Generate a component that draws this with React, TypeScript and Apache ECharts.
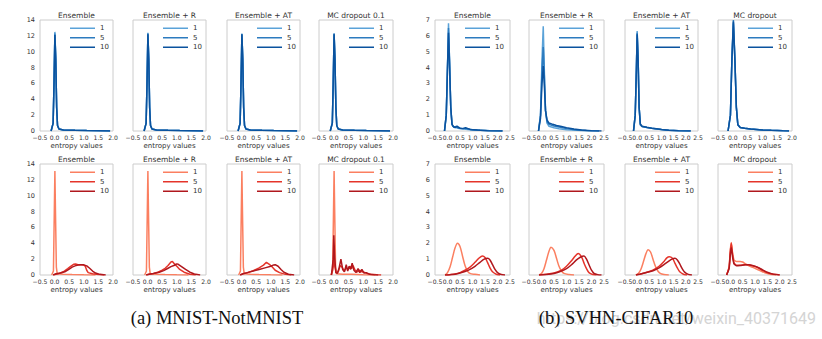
import React, { useEffect, useRef } from "react";
import * as echarts from "echarts";

// ---------- labels ----------
const panelTitles = ["Ensemble", "Ensemble + R", "Ensemble + AT", "MC dropout 0.1", "Ensemble", "Ensemble + R", "Ensemble + AT", "MC dropout"];
const legendLabels = ["1", "5", "10"];
const xAxisName = "entropy values";
const captionA = "(a) MNIST-NotMNIST";
const captionB = "(b) SVHN-CIFAR10";
const watermark = "https://blog.csdn.net/weixin_40371649";

// ---------- axis ranges ----------
const xMinAll = -0.5;
const xMaxMnist = 2.0;
const xMaxSvhn = 2.5;
const xMaxSvhnMcTop = 2.0;
const yMaxMnist = 14;
const yStepMnist = 2;
const yMaxSvhn = 7;
const yStepSvhn = 1;

// ---------- colours ----------
const blues = ["#5aa2d8", "#2c7bbf", "#0a529e"];
const reds = ["#fb7f60", "#e5342a", "#b0171d"];

// ---------- MNIST in-distribution (top row, blue) ----------
const mnEnsB1 = [[-0.12, 0], [-0.05, 1], [-0.02, 6], [0.01, 12.5], [0.04, 9], [0.07, 3], [0.1, 0.7], [0.15, 0.25], [0.3, 0.12], [0.7, 0.08], [1.1, 0.05], [1.5, 0.03], [1.9, 0]];
const mnEnsB5 = [[-0.12, 0], [-0.05, 1], [-0.02, 6], [0.01, 12.3], [0.04, 9], [0.07, 3], [0.1, 0.7], [0.15, 0.25], [0.3, 0.12], [0.7, 0.08], [1.1, 0.05], [1.5, 0.03], [1.9, 0]];
const mnEnsB10 = [[-0.12, 0], [-0.05, 1], [-0.02, 6], [0.01, 12.1], [0.04, 9], [0.07, 3], [0.1, 0.7], [0.15, 0.25], [0.3, 0.12], [0.7, 0.08], [1.1, 0.05], [1.5, 0.03], [1.9, 0]];
const mnRB1 = [[-0.12, 0], [-0.05, 1], [-0.02, 6], [0.01, 12.4], [0.04, 9], [0.07, 3], [0.1, 0.7], [0.15, 0.25], [0.3, 0.12], [0.7, 0.08], [1.1, 0.05], [1.5, 0.03], [1.9, 0]];
const mnRB5 = [[-0.12, 0], [-0.05, 1], [-0.02, 6], [0.01, 12.3], [0.04, 9], [0.07, 3], [0.1, 0.7], [0.15, 0.25], [0.3, 0.12], [0.7, 0.08], [1.1, 0.05], [1.5, 0.03], [1.9, 0]];
const mnRB10 = [[-0.12, 0], [-0.05, 1], [-0.02, 6], [0.01, 12.2], [0.04, 9], [0.07, 3], [0.1, 0.7], [0.15, 0.25], [0.3, 0.12], [0.7, 0.08], [1.1, 0.05], [1.5, 0.03], [1.9, 0]];
const mnAtB1 = [[-0.12, 0], [-0.05, 1], [-0.02, 6], [0.01, 12.3], [0.04, 9], [0.07, 3], [0.1, 0.7], [0.15, 0.25], [0.3, 0.12], [0.7, 0.08], [1.1, 0.05], [1.5, 0.03], [1.9, 0]];
const mnAtB5 = [[-0.12, 0], [-0.05, 1], [-0.02, 6], [0.01, 12.2], [0.04, 9], [0.07, 3], [0.1, 0.7], [0.15, 0.25], [0.3, 0.12], [0.7, 0.08], [1.1, 0.05], [1.5, 0.03], [1.9, 0]];
const mnAtB10 = [[-0.12, 0], [-0.05, 1], [-0.02, 6], [0.01, 12.2], [0.04, 9], [0.07, 3], [0.1, 0.7], [0.15, 0.25], [0.3, 0.12], [0.7, 0.08], [1.1, 0.05], [1.5, 0.03], [1.9, 0]];
const mnMcB1 = [[-0.12, 0], [-0.05, 1], [-0.02, 6], [0.01, 12.3], [0.04, 9], [0.07, 3], [0.1, 0.7], [0.15, 0.25], [0.3, 0.12], [0.7, 0.08], [1.1, 0.05], [1.5, 0.03], [1.9, 0]];
const mnMcB5 = [[-0.12, 0], [-0.05, 1], [-0.02, 6], [0.01, 12.3], [0.04, 9], [0.07, 3], [0.1, 0.7], [0.15, 0.25], [0.3, 0.12], [0.7, 0.08], [1.1, 0.05], [1.5, 0.03], [1.9, 0]];
const mnMcB10 = [[-0.12, 0], [-0.05, 1], [-0.02, 6], [0.01, 12.2], [0.04, 9], [0.07, 3], [0.1, 0.7], [0.15, 0.25], [0.3, 0.12], [0.7, 0.08], [1.1, 0.05], [1.5, 0.03], [1.9, 0]];

// ---------- MNIST out-of-distribution (bottom row, red) ----------
const mnEnsR1 = [[-0.1, 0], [-0.04, 0.5], [-0.01, 8], [0.01, 13.1], [0.03, 8], [0.06, 1], [0.09, 0.15], [0.3, 0.08], [0.6, 0.05], [1.0, 0.02], [1.4, 0]];
const mnEnsR5 = [[-0.05, 0], [0.05, 0.1], [0.15, 0.2], [0.3, 0.4], [0.45, 0.8], [0.55, 1.1], [0.65, 1.35], [0.72, 1.38], [0.8, 1.3], [0.9, 1.28], [1.0, 1.25], [1.05, 1.1], [1.1, 0.6], [1.15, 0.3], [1.3, 0.15], [1.5, 0.05], [1.7, 0]];
const mnEnsR10 = [[-0.05, 0], [0.05, 0.15], [0.2, 0.25], [0.35, 0.4], [0.5, 0.75], [0.6, 1.0], [0.7, 1.15], [0.8, 1.25], [0.9, 1.3], [1.0, 1.28], [1.1, 1.15], [1.2, 0.85], [1.3, 0.5], [1.4, 0.25], [1.55, 0.08], [1.75, 0]];
const mnRR1 = [[-0.1, 0], [-0.04, 0.5], [-0.01, 8], [0.01, 13.1], [0.03, 8], [0.06, 1], [0.09, 0.15], [0.3, 0.08], [0.6, 0.05], [1.0, 0.02], [1.4, 0]];
const mnRR5 = [[-0.05, 0], [0.05, 0.1], [0.2, 0.2], [0.35, 0.35], [0.5, 0.6], [0.6, 0.85], [0.7, 1.2], [0.8, 1.65], [0.85, 1.7], [0.92, 1.4], [1.0, 1.1], [1.1, 0.7], [1.25, 0.35], [1.45, 0.1], [1.65, 0]];
const mnRR10 = [[-0.05, 0], [0.05, 0.1], [0.2, 0.2], [0.4, 0.35], [0.55, 0.55], [0.7, 0.85], [0.8, 1.05], [0.9, 1.2], [1.0, 1.4], [1.05, 1.35], [1.15, 1.1], [1.3, 0.7], [1.45, 0.35], [1.6, 0.12], [1.8, 0]];
const mnAtR1 = [[-0.1, 0], [-0.04, 0.5], [-0.01, 8], [0.01, 13.1], [0.03, 8], [0.06, 1], [0.09, 0.15], [0.3, 0.08], [0.6, 0.05], [1.0, 0.02], [1.4, 0]];
const mnAtR5 = [[-0.05, 0], [0.05, 0.15], [0.2, 0.3], [0.4, 0.55], [0.6, 0.9], [0.75, 1.25], [0.85, 1.6], [0.95, 1.35], [1.05, 1.0], [1.15, 0.6], [1.3, 0.3], [1.5, 0.08], [1.7, 0]];
const mnAtR10 = [[-0.05, 0], [0.05, 0.15], [0.2, 0.3], [0.4, 0.5], [0.6, 0.7], [0.8, 0.9], [1.0, 1.1], [1.1, 1.27], [1.15, 1.3], [1.25, 1.1], [1.35, 0.7], [1.45, 0.35], [1.6, 0.1], [1.8, 0]];
const mnMcR1 = [[-0.1, 0], [-0.04, 0.5], [-0.01, 8], [0.01, 13.1], [0.03, 8], [0.06, 1], [0.09, 0.15], [0.3, 0.1], [0.6, 0.08], [1.0, 0.03], [1.4, 0]];
const mnMcR5 = [[-0.08, 0], [-0.02, 1], [0.0, 2.8], [0.03, 1.2], [0.08, 0.3], [0.15, 0.4], [0.22, 1.2], [0.28, 1.0], [0.35, 0.5], [0.42, 0.9], [0.48, 0.7], [0.55, 1.1], [0.6, 0.8], [0.65, 1.2], [0.72, 0.6], [0.8, 0.4], [0.88, 0.6], [0.95, 0.4], [1.02, 0.35], [1.12, 0.2], [1.25, 0.1], [1.45, 0.02], [1.6, 0]];
const mnMcR10 = [[-0.08, 0], [-0.02, 2], [0.0, 5.0], [0.03, 2.2], [0.07, 0.3], [0.12, 0.2], [0.18, 0.9], [0.24, 2.0], [0.3, 0.7], [0.36, 0.4], [0.42, 1.3], [0.47, 0.5], [0.52, 1.1], [0.57, 0.7], [0.62, 1.5], [0.68, 0.6], [0.75, 0.3], [0.82, 0.8], [0.88, 0.3], [0.95, 0.7], [1.02, 0.25], [1.1, 0.3], [1.2, 0.1], [1.35, 0.03], [1.5, 0]];

// ---------- SVHN in-distribution (top row, blue) ----------
const svEnsB1 = [[-0.12, 0], [-0.05, 1], [0.0, 4], [0.04, 6.8], [0.08, 4.5], [0.13, 1.5], [0.18, 0.4], [0.25, 0.25], [0.4, 0.18], [0.6, 0.14], [0.8, 0.1], [1.0, 0.07], [1.3, 0.04], [1.7, 0.02], [2.2, 0]];
const svEnsB5 = [[-0.12, 0], [-0.05, 1], [0.0, 4], [0.04, 6.5], [0.08, 4.5], [0.13, 1.5], [0.18, 0.4], [0.25, 0.25], [0.35, 0.28], [0.45, 0.18], [0.6, 0.15], [0.75, 0.16], [1.0, 0.08], [1.3, 0.05], [1.7, 0.02], [2.2, 0]];
const svEnsB10 = [[-0.12, 0], [-0.05, 1], [0.0, 4], [0.04, 6.2], [0.08, 4.3], [0.13, 1.5], [0.18, 0.45], [0.22, 0.3], [0.3, 0.22], [0.38, 0.3], [0.5, 0.18], [0.62, 0.15], [0.72, 0.2], [0.9, 0.1], [1.2, 0.06], [1.6, 0.02], [2.2, 0]];
const svRB1 = [[-0.12, 0], [-0.04, 1], [0.02, 4.5], [0.07, 6.6], [0.11, 4], [0.16, 1.3], [0.22, 0.5], [0.3, 0.3], [0.5, 0.2], [0.7, 0.14], [1.0, 0.08], [1.4, 0.04], [1.8, 0.02], [2.3, 0]];
const svRB5 = [[-0.12, 0], [-0.04, 1], [0.02, 3.8], [0.07, 5.3], [0.11, 3.6], [0.16, 1.3], [0.22, 0.6], [0.3, 0.42], [0.5, 0.32], [0.7, 0.25], [1.0, 0.15], [1.4, 0.07], [1.8, 0.03], [2.3, 0]];
const svRB10 = [[-0.12, 0], [-0.04, 0.8], [0.02, 3], [0.07, 4.1], [0.11, 3], [0.16, 1.3], [0.22, 0.7], [0.3, 0.5], [0.45, 0.42], [0.6, 0.35], [0.8, 0.28], [1.0, 0.2], [1.3, 0.12], [1.6, 0.06], [2.0, 0.02], [2.4, 0]];
const svAtB1 = [[-0.15, 0], [-0.08, 1], [-0.03, 4], [0.0, 6.3], [0.04, 4.5], [0.08, 1.5], [0.13, 0.4], [0.2, 0.28], [0.4, 0.22], [0.6, 0.17], [0.8, 0.13], [1.0, 0.09], [1.3, 0.05], [1.7, 0.02], [2.2, 0]];
const svAtB5 = [[-0.15, 0], [-0.08, 1], [-0.03, 4], [0.0, 6.2], [0.04, 4.5], [0.08, 1.5], [0.13, 0.4], [0.2, 0.28], [0.4, 0.22], [0.6, 0.17], [0.8, 0.13], [1.0, 0.09], [1.3, 0.05], [1.7, 0.02], [2.2, 0]];
const svAtB10 = [[-0.15, 0], [-0.08, 1], [-0.03, 4], [0.0, 6.1], [0.04, 4.4], [0.08, 1.5], [0.13, 0.45], [0.2, 0.3], [0.4, 0.23], [0.6, 0.18], [0.8, 0.14], [1.0, 0.1], [1.3, 0.05], [1.7, 0.02], [2.2, 0]];
const svMcB1 = [[-0.16, 0], [-0.08, 1], [-0.03, 4.5], [0.02, 6.8], [0.07, 4.5], [0.12, 1.5], [0.17, 0.4], [0.25, 0.22], [0.4, 0.17], [0.6, 0.13], [0.8, 0.1], [1.0, 0.07], [1.3, 0.04], [1.7, 0.01], [1.9, 0]];
const svMcB5 = [[-0.16, 0], [-0.08, 1], [-0.03, 4.6], [0.02, 7.0], [0.07, 4.6], [0.12, 1.5], [0.17, 0.4], [0.25, 0.22], [0.4, 0.17], [0.6, 0.13], [0.8, 0.1], [1.0, 0.07], [1.3, 0.04], [1.7, 0.01], [1.9, 0]];
const svMcB10 = [[-0.16, 0], [-0.08, 1], [-0.03, 4.5], [0.02, 6.9], [0.07, 4.5], [0.12, 1.5], [0.17, 0.4], [0.25, 0.22], [0.4, 0.17], [0.6, 0.13], [0.8, 0.1], [1.0, 0.07], [1.3, 0.04], [1.7, 0.01], [1.9, 0]];

// ---------- SVHN out-of-distribution (bottom row, red) ----------
const svEnsR1 = [[-0.1, 0], [0.0, 0.15], [0.1, 0.5], [0.2, 1.1], [0.3, 1.7], [0.4, 2.0], [0.5, 1.8], [0.6, 1.2], [0.7, 0.6], [0.8, 0.25], [0.9, 0.1], [1.1, 0.04], [1.3, 0]];
const svEnsR5 = [[-0.1, 0], [0.1, 0.02], [0.3, 0.06], [0.5, 0.15], [0.7, 0.3], [0.9, 0.5], [1.1, 0.8], [1.25, 1.05], [1.4, 1.2], [1.5, 1.1], [1.6, 0.8], [1.7, 0.45], [1.8, 0.2], [1.95, 0.05], [2.1, 0]];
const svEnsR10 = [[-0.1, 0], [0.1, 0.02], [0.3, 0.05], [0.5, 0.12], [0.7, 0.22], [0.9, 0.35], [1.1, 0.55], [1.3, 0.8], [1.45, 0.98], [1.6, 1.05], [1.7, 0.95], [1.8, 0.65], [1.9, 0.35], [2.0, 0.15], [2.15, 0.03], [2.3, 0]];
const svRR1 = [[-0.1, 0], [0.0, 0.1], [0.1, 0.4], [0.2, 0.95], [0.3, 1.5], [0.38, 1.75], [0.5, 1.55], [0.6, 1.05], [0.7, 0.55], [0.8, 0.25], [0.9, 0.1], [1.1, 0.03], [1.3, 0]];
const svRR5 = [[-0.1, 0], [0.2, 0.04], [0.5, 0.12], [0.8, 0.3], [1.0, 0.55], [1.2, 0.9], [1.35, 1.2], [1.47, 1.35], [1.6, 1.15], [1.7, 0.75], [1.8, 0.4], [1.9, 0.15], [2.05, 0.03], [2.2, 0]];
const svRR10 = [[-0.1, 0], [0.2, 0.03], [0.5, 0.1], [0.8, 0.25], [1.0, 0.4], [1.2, 0.65], [1.4, 0.95], [1.55, 1.12], [1.7, 1.2], [1.8, 1.0], [1.9, 0.65], [2.0, 0.3], [2.1, 0.1], [2.25, 0.02], [2.4, 0]];
const svAtR1 = [[-0.05, 0], [0.05, 0.1], [0.15, 0.35], [0.25, 0.8], [0.35, 1.3], [0.45, 1.6], [0.55, 1.45], [0.65, 1.0], [0.75, 0.55], [0.85, 0.25], [0.95, 0.1], [1.1, 0.03], [1.3, 0]];
const svAtR5 = [[-0.05, 0], [0.1, 0.05], [0.3, 0.12], [0.5, 0.22], [0.7, 0.35], [0.9, 0.55], [1.1, 0.85], [1.22, 1.08], [1.32, 1.15], [1.45, 1.05], [1.55, 0.75], [1.65, 0.45], [1.75, 0.2], [1.9, 0.05], [2.05, 0]];
const svAtR10 = [[-0.05, 0], [0.1, 0.05], [0.3, 0.12], [0.5, 0.2], [0.7, 0.3], [0.9, 0.45], [1.1, 0.65], [1.3, 0.88], [1.45, 1.02], [1.55, 1.05], [1.65, 0.95], [1.75, 0.7], [1.85, 0.4], [1.95, 0.18], [2.1, 0.04], [2.25, 0]];
const svMcR1 = [[-0.15, 0], [-0.05, 0.5], [0.0, 1.6], [0.04, 2.05], [0.09, 1.4], [0.15, 0.95], [0.25, 0.85], [0.4, 0.85], [0.5, 0.82], [0.6, 0.72], [0.8, 0.55], [1.0, 0.42], [1.2, 0.28], [1.4, 0.14], [1.6, 0.05], [1.85, 0]];
const svMcR5 = [[-0.15, 0], [-0.05, 0.5], [0.0, 1.5], [0.04, 2.0], [0.09, 1.3], [0.15, 0.75], [0.25, 0.62], [0.4, 0.62], [0.6, 0.65], [0.75, 0.65], [0.9, 0.58], [1.1, 0.47], [1.3, 0.3], [1.5, 0.15], [1.7, 0.06], [2.0, 0]];
const svMcR10 = [[-0.15, 0], [-0.05, 0.4], [0.0, 1.3], [0.04, 1.72], [0.09, 1.15], [0.15, 0.7], [0.25, 0.58], [0.4, 0.6], [0.6, 0.64], [0.75, 0.65], [0.9, 0.6], [1.1, 0.5], [1.3, 0.33], [1.5, 0.17], [1.7, 0.07], [2.0, 0]];

// ---------- layout (pixels) ----------
const colLeft = [40, 133, 227, 319, 435, 529, 625, 718];
const colWidth = [73, 73, 73, 74, 75, 75, 73, 74];
const rowTop = [20, 164];
const rowHeight = 111;
const FONT = "DejaVu Sans";
const TXT = "#333333";
const TICK_FS = 6.1;

type Panel = { row: number; col: number; curves: number[][][]; smooth: number | boolean };

const panels: Panel[] = [
  { row: 0, col: 0, curves: [mnEnsB1, mnEnsB5, mnEnsB10], smooth: false },
  { row: 0, col: 1, curves: [mnRB1, mnRB5, mnRB10], smooth: false },
  { row: 0, col: 2, curves: [mnAtB1, mnAtB5, mnAtB10], smooth: false },
  { row: 0, col: 3, curves: [mnMcB1, mnMcB5, mnMcB10], smooth: false },
  { row: 0, col: 4, curves: [svEnsB1, svEnsB5, svEnsB10], smooth: false },
  { row: 0, col: 5, curves: [svRB1, svRB5, svRB10], smooth: false },
  { row: 0, col: 6, curves: [svAtB1, svAtB5, svAtB10], smooth: false },
  { row: 0, col: 7, curves: [svMcB1, svMcB5, svMcB10], smooth: false },
  { row: 1, col: 0, curves: [mnEnsR1, mnEnsR5, mnEnsR10], smooth: false },
  { row: 1, col: 1, curves: [mnRR1, mnRR5, mnRR10], smooth: false },
  { row: 1, col: 2, curves: [mnAtR1, mnAtR5, mnAtR10], smooth: false },
  { row: 1, col: 3, curves: [mnMcR1, mnMcR5, mnMcR10], smooth: false },
  { row: 1, col: 4, curves: [svEnsR1, svEnsR5, svEnsR10], smooth: 0.3 },
  { row: 1, col: 5, curves: [svRR1, svRR5, svRR10], smooth: 0.3 },
  { row: 1, col: 6, curves: [svAtR1, svAtR5, svAtR10], smooth: 0.3 },
  { row: 1, col: 7, curves: [svMcR1, svMcR5, svMcR10], smooth: 0.15 },
];

const fmtX = (v: number) => (v < 0 ? "\u2212" : "") + Math.abs(v).toFixed(1);

function buildOption() {
  const grid: any[] = [];
  const xAxis: any[] = [];
  const yAxis: any[] = [];
  const series: any[] = [];
  const legend: any[] = [];
  const graphic: any[] = [];

  panels.forEach((p, i) => {
    const left = colLeft[p.col];
    const width = colWidth[p.col];
    const top = rowTop[p.row];
    const isSvhn = p.col >= 4;
    const xMax = !isSvhn ? xMaxMnist : p.col === 7 && p.row === 0 ? xMaxSvhnMcTop : xMaxSvhn;
    const palette = p.row === 0 ? blues : reds;
    const prefix = p.row === 0 ? "B" : "R";

    grid.push({ left, top, width, height: rowHeight, show: true, borderColor: "#cccccc", borderWidth: 1, backgroundColor: "transparent" });
    xAxis.push({
      gridIndex: i, type: "value", min: xMinAll, max: xMax, interval: 0.5,
      axisLine: { show: false }, axisTick: { show: false }, splitLine: { show: false },
      axisLabel: { fontSize: TICK_FS, color: TXT, margin: 3, formatter: fmtX, showMinLabel: true, showMaxLabel: true, hideOverlap: false, fontFamily: FONT },
      name: xAxisName, nameLocation: "middle", nameGap: 11,
      nameTextStyle: { fontSize: 7, color: TXT, fontFamily: FONT },
    });
    yAxis.push({
      gridIndex: i, type: "value", min: 0, max: isSvhn ? yMaxSvhn : yMaxMnist, interval: isSvhn ? yStepSvhn : yStepMnist,
      axisLine: { show: false }, axisTick: { show: false }, splitLine: { show: false },
      axisLabel: { show: p.col === 0 || p.col === 4, fontSize: TICK_FS + 0.4, color: TXT, margin: 5, fontFamily: FONT },
    });
    p.curves.forEach((data, k) => {
      series.push({
        type: "line", name: prefix + legendLabels[k], xAxisIndex: i, yAxisIndex: i, data,
        showSymbol: false, symbol: "none", smooth: p.smooth, color: palette[k],
        lineStyle: { width: 1.5, color: palette[k] }, z: 3 + k,
      });
    });
    legend.push({
      orient: "vertical", left: left + 30, top: top + 3.5, itemWidth: 25, itemHeight: 1.5, icon: "rect",
      itemGap: 0, padding: 0, selectedMode: false,
      data: legendLabels.map((l) => prefix + l),
      formatter: (n: string) => n.slice(1),
      textStyle: { fontSize: 7, color: TXT, lineHeight: 9.5, fontFamily: FONT },
    });
    graphic.push({
      type: "text", x: left + width / 2, y: p.row === 0 ? 15 : 159,
      style: { text: panelTitles[p.col], align: "center", verticalAlign: "middle", fontSize: 7.5, fontFamily: FONT, fill: TXT },
    });
  });

  graphic.push({
    type: "text", x: 816, y: 318, z: 1,
    style: { text: watermark, align: "right", verticalAlign: "middle", fontSize: 16, fontFamily: "Roboto", fill: "#d4d4d4" },
  });
  graphic.push({
    type: "text", x: 217, y: 318, z: 2,
    style: { text: captionA, align: "center", verticalAlign: "middle", fontSize: 18.5, fontFamily: "Liberation Serif", fill: "#111111" },
  });
  graphic.push({
    type: "text", x: 616, y: 318, z: 2,
    style: { text: captionB, align: "center", verticalAlign: "middle", fontSize: 18.5, fontFamily: "Liberation Serif", fill: "#111111" },
  });

  return {
    animation: false,
    backgroundColor: "#ffffff",
    textStyle: { fontFamily: FONT },
    grid, xAxis, yAxis, series, legend, graphic,
  };
}

export default function App() {
  const ref = useRef<HTMLDivElement>(null);
  useEffect(() => {
    document.body.style.margin = "0";
    if (!ref.current) return;
    const chart = echarts.init(ref.current, undefined, { renderer: "svg" });
    chart.setOption(buildOption() as any);
    return () => chart.dispose();
  }, []);
  return <div ref={ref} style={{ width: 822, height: 339 }} />;
}
